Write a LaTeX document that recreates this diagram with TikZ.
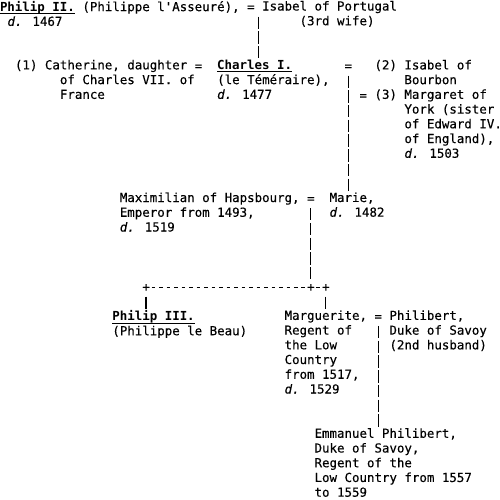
\documentclass[tikz,border=0pt]{standalone}
\usepackage{fontspec}
\newfontfamily\monofont{DejaVu Sans Mono}[BoldFont={DejaVu Sans Mono Bold}, ItalicFont={DejaVu Sans Mono Oblique}, UprightFeatures={FakeBold=0.3}, ItalicFeatures={FakeBold=0.3}]
\newcommand\genfont{\fontsize{9.33pt}{11.05pt}\monofont}
\newcommand\ruled[1]{\setbox0=\hbox{\bfseries #1}\rlap{\copy0}\rule[-2.3pt]{\wd0}{0.75pt}}
\newcommand\colgap{\hphantom{x}}

\begin{document}
\begin{tikzpicture}[x=5.6175pt, y=-11.05pt,
			person/.style={anchor=north west, inner sep=0pt, outer sep=0pt, align=left, font=\genfont, yshift=7.735pt, execute at begin node=\strut},
			descent/.style={line width=0.9pt, dash pattern=on 9.29pt off 1.76pt, shorten <=0.645pt, shorten >=1.115pt},
			sibling/.style={line width=0.75pt, dash pattern=on 0pt off 1.41pt on 2.8pt off 1.4075pt}]
			\useasboundingbox (0,-0.767) rectangle (66.756,33.17);
			
			\node[person] (philipII) at (0,0) {\ruled{Philip II.} (Philippe l'Asseuré),\\\colgap\textit{d.} 1467};
			\node[person] (eqA) at (33,0) {=};
			\node[person] (isabelP) at (35,0) {Isabel of Portugal\\\colgap\colgap\colgap\colgap\colgap(3rd wife)};
			
			\node[person] (catherine) at (2,4) {(1) Catherine, daughter\\\colgap\colgap\colgap\colgap\colgap\colgap of Charles VII. of\\\colgap\colgap\colgap\colgap\colgap\colgap France};
			\node[person] (eqB) at (26,4) {=};
			\node[person] (charles) at (29,4) {\ruled{Charles I.}\\(le Téméraire),\\\textit{d.} 1477};
			\node[person] (eqC) at (46,4) {=};
			\node[person] (isabelB) at (50,4) {(2) Isabel of\\\colgap\colgap\colgap\colgap Bourbon};
			\node[person] (eqD) at (48,6) {=};
			\node[person] (margaret) at (50,6) {(3) Margaret of\\\colgap\colgap\colgap\colgap York (sister\\\colgap\colgap\colgap\colgap of Edward IV.\\\colgap\colgap\colgap\colgap of England),\\\colgap\colgap\colgap\colgap \textit{d.} 1503};
			\draw[descent] ([xshift=5.6175pt]eqA.south) -- ([xshift=5.6175pt]eqA.south |- charles.north);
			
			\node[person] (maximilian) at (16,13) {Maximilian of Hapsbourg,\\Emperor from 1493,\\\textit{d.} 1519};
			\node[person] (eqE) at (41,13) {=};
			\node[person] (marie) at (44,13) {Marie,\\\textit{d.} 1482};
			\draw[descent] (eqC.south) -- (eqC.south |- marie.north);
			
			\node[person] (plusL) at (19,19) {+};
			\node[person] (plusM) at (41,19) {+};
			\node[person] (plusR) at (43,19) {+};
			\draw[descent] (eqE.south) -- (plusM.north);
			\draw[sibling] ([yshift=2.5pt]plusL.base east) -- ([yshift=2.5pt]plusM.base west) ([yshift=2.5pt]plusM.base east) -- ([yshift=2.5pt]plusR.base west);
			
			\node[person] (philipIII) at (15,21) {\ruled{Philip III.}\\(Philippe le Beau)};
			\node[person] (marguerite) at (38,21) {Marguerite,\\Regent of\\the Low\\Country\\from 1517,\\\textit{d.} 1529};
			\node[person] (eqF) at (50,21) {=};
			\node[person] (philibert) at (52,21) {Philibert,\\Duke of Savoy\\(2nd husband)};
			\draw[descent] (plusL.south) -- (plusL.south |- philipIII.north);
			\draw[descent] (plusR.south) -- (plusR.south |- marguerite.north);
			
			\node[person] (emmanuel) at (42,29) {Emmanuel Philibert,\\Duke of Savoy,\\Regent of the\\Low Country from 1557\\to 1559};
			\draw[descent] (eqF.south) -- (eqF.south |- emmanuel.north);
			\end{tikzpicture}
\end{document}
